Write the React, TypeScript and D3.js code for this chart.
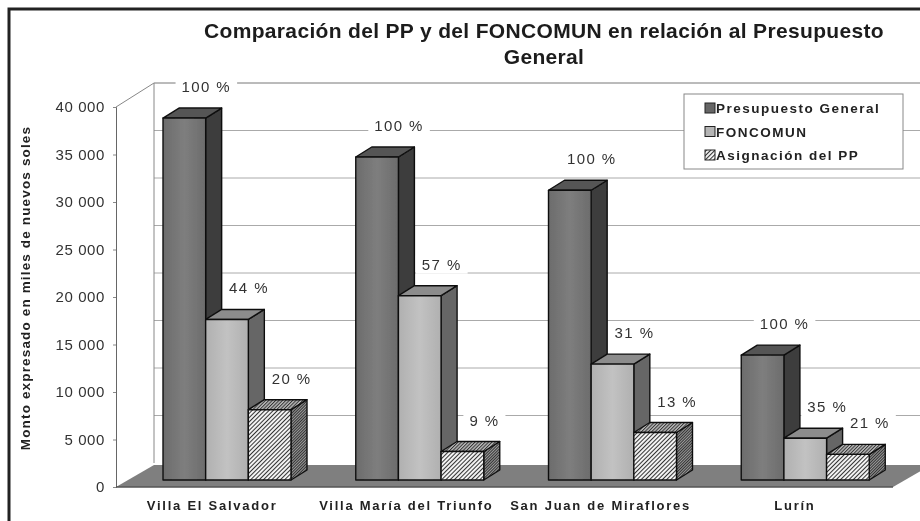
import React, { useEffect, useRef } from "react";
import * as d3 from "d3";

const categories = ["Villa El Salvador", "Villa María del Triunfo", "San Juan de Miraflores", "Lurín"];
const seriesNames = ["Presupuesto General", "FONCOMUN", "Asignación del PP"];
const presupuesto = [38100, 34000, 30500, 13150];
const foncomun = [16900, 19400, 12200, 4400];
const asignacion = [7400, 3000, 5000, 2700];
const presupuestoPct = ["100 %", "100 %", "100 %", "100 %"];
const foncomunPct = ["44 %", "57 %", "31 %", "35 %"];
const asignacionPct = ["20 %", "9 %", "13 %", "21 %"];
const yTicks = [0, 5000, 10000, 15000, 20000, 25000, 30000, 35000, 40000];

const width = 920;
const height = 521;
const FONT = "'Liberation Sans', Arial, sans-serif";

const App = () => {
  const svgRef = useRef<SVGSVGElement>(null);

  useEffect(() => {
    const svg = d3.select(svgRef.current).attr("width", width).attr("height", height);
    svg.selectAll("*").remove();

    // Geometry of the fake 3D box
    const axisX = 116;
    const axisRight = 893;
    const y0 = 487;
    const yTop = 107;
    const wallDx = 38;
    const wallDy = 24;
    const barLift = 7; // bars stand a little behind the front of the floor
    const depthX = 16;
    const depthY = 10;

    const y = d3.scaleLinear().domain([0, 40000]).range([y0, yTop]);
    const labelX = d3.scaleBand().domain(categories).range([axisX, axisRight]);
    const groupX = d3.scaleBand().domain(categories).range([163, 934]);
    const barX = d3.scaleBand().domain(seriesNames).range([0, 128]);

    const defs = svg.append("defs");
    const blur = defs.append("filter").attr("id", "soft");
    blur.append("feGaussianBlur").attr("stdDeviation", 0.6);

    const hatch = (id: string, size: number, bg: string, sw: number) => {
      const p = defs
        .append("pattern")
        .attr("id", id)
        .attr("width", size)
        .attr("height", size)
        .attr("patternUnits", "userSpaceOnUse")
        .attr("patternTransform", "rotate(45)");
      p.append("rect").attr("width", size).attr("height", size).attr("fill", bg);
      p.append("rect").attr("width", sw).attr("height", size).attr("fill", "#333");
    };
    hatch("hatch-front", 3, "#f2f2f2", 1);
    hatch("hatch-top", 2.4, "#bbb", 1);
    hatch("hatch-side", 2, "#999", 1);

    const grad = defs.append("linearGradient").attr("id", "bar-dark");
    grad.append("stop").attr("offset", "0%").attr("stop-color", "#6c6c6c");
    grad.append("stop").attr("offset", "50%").attr("stop-color", "#7e7e7e");
    grad.append("stop").attr("offset", "100%").attr("stop-color", "#6c6c6c");
    const grad2 = defs.append("linearGradient").attr("id", "bar-light");
    grad2.append("stop").attr("offset", "0%").attr("stop-color", "#b0b0b0");
    grad2.append("stop").attr("offset", "50%").attr("stop-color", "#c2c2c2");
    grad2.append("stop").attr("offset", "100%").attr("stop-color", "#b0b0b0");

    const root = svg.append("g").attr("filter", "url(#soft)");
    root.append("rect").attr("width", width).attr("height", height).attr("fill", "#fff");

    // Outer frame, only top and left are inside the picture
    root
      .append("path")
      .attr("d", "M9,521V9H920")
      .attr("fill", "none")
      .attr("stroke", "#222")
      .attr("stroke-width", 3);

    // Back wall grid
    root
      .selectAll(".grid")
      .data(yTicks.slice(1))
      .join("line")
      .attr("x1", axisX + wallDx)
      .attr("x2", width)
      .attr("y1", (d) => y(d) - wallDy)
      .attr("y2", (d) => y(d) - wallDy)
      .attr("stroke", (d) => (d === 40000 ? "#777" : "#aaa"))
      .attr("stroke-width", 1);

    root
      .append("path")
      .attr("d", `M${axisX},${y(40000)}L${axisX + wallDx},${y(40000) - wallDy}V${y0 - wallDy}`)
      .attr("fill", "none")
      .attr("stroke", "#888");

    // Floor
    root
      .append("polygon")
      .attr(
        "points",
        [
          [axisX, y0],
          [axisX + wallDx, y0 - wallDy + 2],
          [axisRight + wallDx, y0 - wallDy + 2],
          [axisRight, y0],
        ].join(" ")
      )
      .attr("fill", "#7f7f7f");

    // Y axis
    const locale = d3.formatLocale({ decimal: ",", thousands: " ", grouping: [3], currency: ["", ""] });
    const axis = root
      .append("g")
      .attr("transform", `translate(${axisX},0)`)
      .call(
        d3
          .axisLeft(y)
          .tickValues(yTicks)
          .tickSize(3)
          .tickPadding(8)
          .tickFormat((d) => locale.format(",")(d as number))
      );
    axis.select(".domain").attr("stroke", "#666");
    axis.selectAll(".tick line").attr("stroke", "#888");
    axis
      .selectAll("text")
      .attr("font-family", FONT)
      .attr("font-size", 15)
      .attr("letter-spacing", 0.6)
      .attr("fill", "#333");

    root
      .append("line")
      .attr("x1", axisX)
      .attr("x2", axisRight)
      .attr("y1", y0)
      .attr("y2", y0)
      .attr("stroke", "#555")
      .attr("stroke-width", 1.5);

    // Category labels
    root
      .selectAll(".cat")
      .data(categories)
      .join("text")
      .attr("x", (d) => labelX(d)! + labelX.bandwidth() / 2 - 1)
      .attr("y", 510)
      .attr("text-anchor", "middle")
      .attr("font-family", FONT)
      .attr("font-size", 13)
      .attr("font-weight", "bold")
      .attr("letter-spacing", 1.75)
      .attr("fill", "#222")
      .text((d) => d);

    // Bars
    const series = [
      { name: seriesNames[0], values: presupuesto, pct: presupuestoPct, front: "url(#bar-dark)", top: "#555", side: "#3c3c3c" },
      { name: seriesNames[1], values: foncomun, pct: foncomunPct, front: "url(#bar-light)", top: "#8c8c8c", side: "#666" },
      { name: seriesNames[2], values: asignacion, pct: asignacionPct, front: "url(#hatch-front)", top: "url(#hatch-top)", side: "url(#hatch-side)" },
    ];
    const yBar = (v: number) => y(v) - barLift;

    categories.forEach((cat, i) => {
      series.forEach((s) => {
        const x1 = groupX(cat)! + barX(s.name)!;
        const x2 = x1 + barX.bandwidth();
        const top = yBar(s.values[i]);
        const base = yBar(0);
        const g = root.append("g").attr("stroke", "#111").attr("stroke-width", 1.4).attr("stroke-linejoin", "round");
        g.append("polygon")
          .attr("points", `${x2},${top} ${x2 + depthX},${top - depthY} ${x2 + depthX},${base - depthY} ${x2},${base}`)
          .attr("fill", s.side);
        g.append("polygon")
          .attr("points", `${x1},${top} ${x1 + depthX},${top - depthY} ${x2 + depthX},${top - depthY} ${x2},${top}`)
          .attr("fill", s.top);
        g.append("rect")
          .attr("x", x1)
          .attr("y", top)
          .attr("width", x2 - x1)
          .attr("height", base - top)
          .attr("fill", s.front);
      });
    });

    // Percent labels, white box hides the grid behind them
    categories.forEach((cat, i) => {
      series.forEach((s) => {
        const cx = groupX(cat)! + barX(s.name)! + barX.bandwidth() / 2 + 22;
        const cy = yBar(s.values[i]) - depthY - 21;
        const mask = root.append("rect").attr("fill", "#fff");
        const label = root
          .append("text")
          .attr("x", cx)
          .attr("y", cy + 5)
          .attr("text-anchor", "middle")
          .attr("font-family", FONT)
          .attr("font-size", 15)
          .attr("letter-spacing", 1.4)
          .attr("fill", "#333")
          .text(s.pct[i]);
        const w = (label.node() as SVGTextElement).getComputedTextLength() + 12;
        mask
          .attr("x", cx - w / 2)
          .attr("y", cy - 9)
          .attr("width", w)
          .attr("height", 18);
      });
    });

    // Title
    const title = root
      .append("text")
      .attr("text-anchor", "middle")
      .attr("font-family", FONT)
      .attr("font-size", 21)
      .attr("letter-spacing", 0.33)
      .attr("font-weight", "bold")
      .attr("fill", "#1a1a1a");
    title.append("tspan").attr("x", 544).attr("y", 38).text("Comparación del PP y del FONCOMUN en relación al Presupuesto");
    title.append("tspan").attr("x", 544).attr("y", 64).text("General");

    // Y axis title
    root
      .append("text")
      .attr("transform", "translate(30,288) rotate(-90)")
      .attr("text-anchor", "middle")
      .attr("font-family", FONT)
      .attr("font-size", 13.5)
      .attr("letter-spacing", 1.15)
      .attr("font-weight", "bold")
      .attr("fill", "#222")
      .text("Monto expresado en miles de nuevos soles");

    // Legend
    const legend = root.append("g").attr("transform", "translate(684,94)");
    legend
      .append("rect")
      .attr("width", 219)
      .attr("height", 75)
      .attr("fill", "#fff")
      .attr("stroke", "#888");
    const legendFills = ["#666", "#b5b5b5", "url(#hatch-front)"];
    const legendY = d3.scalePoint().domain(seriesNames).range([14, 61]);
    seriesNames.forEach((name, i) => {
      const row = legend.append("g").attr("transform", `translate(0,${legendY(name)})`);
      row
        .append("rect")
        .attr("x", 21)
        .attr("y", -5)
        .attr("width", 10)
        .attr("height", 10)
        .attr("fill", legendFills[i])
        .attr("stroke", "#222");
      row
        .append("text")
        .attr("x", 32)
        .attr("y", 5)
        .attr("font-family", FONT)
        .attr("font-size", 13.5)
        .attr("font-weight", "bold")
        .attr("letter-spacing", 1.5)
        .attr("fill", "#222")
        .text(name);
    });
  }, []);

  return (
    <div style={{ position: "fixed", left: 0, top: 0 }}>
      <svg ref={svgRef} style={{ display: "block" }}></svg>
    </div>
  );
};

export default App;
